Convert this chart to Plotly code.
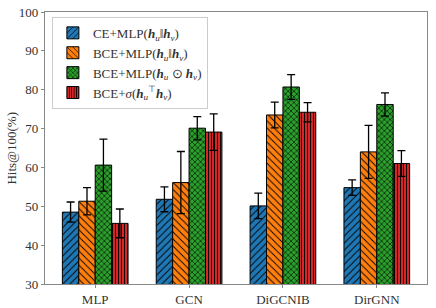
import plotly.graph_objects as go

categories = ["MLP", "GCN", "DiGCNIB", "DirGNN"]
series_names = [
    "CE+MLP(<b><i>h</i></b><sub><i>u</i></sub>‖<b><i>h</i></b><sub><i>v</i></sub>)",
    "BCE+MLP(<b><i>h</i></b><sub><i>u</i></sub>‖<b><i>h</i></b><sub><i>v</i></sub>)",
    "BCE+MLP(<b><i>h</i></b><sub><i>u</i></sub> ⊙ <b><i>h</i></b><sub><i>v</i></sub>)",
    "BCE+<i>σ</i>(<b><i>h</i></b><sub><i>u</i></sub><sup>⊤</sup><b><i>h</i></b><sub><i>v</i></sub>)",
]
ce_mlp_concat = [48.5, 51.8, 50.1, 54.8]
ce_mlp_concat_err = [2.6, 3.2, 3.3, 2.0]
bce_mlp_concat = [51.3, 56.1, 73.5, 64.0]
bce_mlp_concat_err = [3.5, 8.0, 3.3, 6.8]
bce_mlp_hadamard = [60.6, 70.1, 80.7, 76.2]
bce_mlp_hadamard_err = [6.7, 3.0, 3.2, 3.0]
bce_dot = [45.6, 69.1, 74.2, 61.0]
bce_dot_err = [3.7, 4.7, 2.5, 3.3]
y_ticks = [30, 40, 50, 60, 70, 80, 90, 100]
y_title = "Hits@100(%)"

values = [ce_mlp_concat, bce_mlp_concat, bce_mlp_hadamard, bce_dot]
errors = [ce_mlp_concat_err, bce_mlp_concat_err, bce_mlp_hadamard_err, bce_dot_err]
colors = ["#1f77b4", "#ff7f0e", "#2ca02c", "#d62728"]
shapes = ["/", "\\", "x", "|"]
sizes = [5, 5, 4, 3]
solid = [0.18, 0.18, 0.28, 0.3]

FONT = "Liberation Serif"
fig = go.Figure()
for i in range(4):
    fig.add_trace(go.Bar(
        x=categories, y=values[i], name=series_names[i],
        marker=dict(color=colors[i], line=dict(color="black", width=1),
                    pattern=dict(shape=shapes[i], fgcolor="black", bgcolor=colors[i],
                                 size=sizes[i], solidity=solid[i], fillmode="replace")),
        error_y=dict(type="data", array=errors[i], color="black", thickness=1.3, width=4),
    ))

fig.update_layout(
    width=436, height=308,
    margin=dict(l=45, r=9, t=12, b=24, autoexpand=False),
    barmode="group", bargap=0.3, bargroupgap=0,
    plot_bgcolor="white", paper_bgcolor="white",
    font=dict(family=FONT, size=13, color="#333333"),
    showlegend=True,
    legend=dict(x=0.018, y=0.982, xanchor="left", yanchor="top",
                bgcolor="rgba(255,255,255,0.9)", bordercolor="#cccccc", borderwidth=1,
                font=dict(family=FONT, size=13, color="#333333"),
                tracegroupgap=0, itemwidth=30),
)
fig.add_annotation(text=y_title, xref="paper", yref="paper", x=-0.09, y=0.5,
                   textangle=-90, showarrow=False, xanchor="center", yanchor="middle",
                   font=dict(family=FONT, size=13, color="#333333"))
fig.update_xaxes(range=[-0.535, 3.535], showline=True, linecolor="#888888", linewidth=1.3,
                 mirror=True, ticks="outside", ticklen=3, tickcolor="#888888",
                 showgrid=False, tickfont=dict(size=13), automargin=False)
fig.update_yaxes(range=[30, 100], tickvals=y_ticks, showline=True, linecolor="#888888",
                 linewidth=1.3, mirror=True, ticks="outside", ticklen=3, tickcolor="#888888",
                 showgrid=False, zeroline=False, tickfont=dict(size=13), automargin=False)

fig.write_html("out.html", config={"displayModeBar": False},
               post_script="document.body.style.margin='0';document.body.style.overflow='hidden';")
